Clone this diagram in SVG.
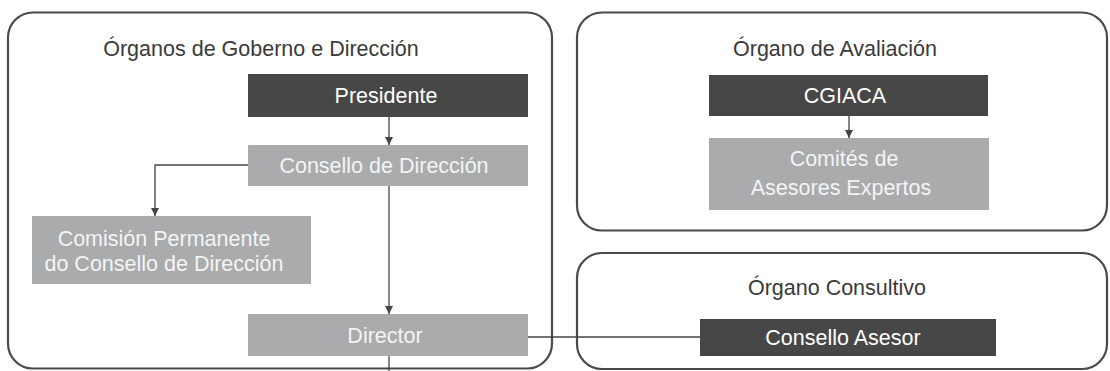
<svg xmlns="http://www.w3.org/2000/svg" width="1110" height="371" viewBox="0 0 1110 371">
  <style>
    text { font-family: "Liberation Sans", Arial, sans-serif; font-size: 21.5px; text-anchor: middle; }
    .frame { fill: #ffffff; stroke: #4a4a4a; stroke-width: 2.2; }
    .title { fill: #3a3a3a; }
    .dark { fill: #474747; }
    .light { fill: #a9abad; }
    .lbl { fill: #ffffff; }
    .lbl2 { fill: #f4f4f4; }
    .conn { fill: none; stroke: #444444; stroke-width: 1.3; }
  </style>
  <defs>
    <marker id="arr" viewBox="0 0 10 10" refX="10" refY="5" markerWidth="8" markerHeight="8" markerUnits="userSpaceOnUse" orient="auto">
      <path d="M0,0 L10,5 L0,10 z" fill="#444444"/>
    </marker>
  </defs>
  <rect width="1110" height="371" fill="#ffffff"/>

  <g id="group-gobierno">
    <rect class="frame" x="8" y="12.5" width="544" height="356" rx="25" ry="25"/>
    <text class="title" x="261" y="56">Órganos de Goberno e Dirección</text>
  </g>
  <g id="group-avaliacion">
    <rect class="frame" x="577" y="12.5" width="530" height="218" rx="25" ry="25"/>
    <text class="title" x="835" y="56">Órgano de Avaliación</text>
  </g>
  <g id="group-consultivo">
    <rect class="frame" x="577" y="253" width="530" height="116" rx="25" ry="25"/>
    <text class="title" x="837" y="295">Órgano Consultivo</text>
  </g>

  <g id="connectors">
    <path class="conn" d="M389,117 V145" marker-end="url(#arr)"/>
    <path class="conn" d="M248,165 H155 V216" marker-end="url(#arr)"/>
    <path class="conn" d="M389,186 V314" marker-end="url(#arr)"/>
    <path class="conn" d="M389,356 V371"/>
    <path class="conn" d="M527,337 H700"/>
    <path class="conn" d="M849,116 V138" marker-end="url(#arr)"/>
  </g>

  <g id="node-presidente">
    <rect class="dark" x="248" y="74" width="280" height="43"/>
    <text class="lbl" x="386" y="103">Presidente</text>
  </g>
  <g id="node-consello-direccion">
    <rect class="light" x="248" y="145" width="280" height="41"/>
    <text class="lbl2" x="384" y="173">Consello de Dirección</text>
  </g>
  <g id="node-comision">
    <rect class="light" x="32" y="216" width="279" height="68"/>
    <text class="lbl2" x="164" y="246">Comisión Permanente</text>
    <text class="lbl2" x="164" y="271">do Consello de Dirección</text>
  </g>
  <g id="node-director">
    <rect class="light" x="248" y="314" width="280" height="42"/>
    <text class="lbl2" x="385" y="343">Director</text>
  </g>
  <g id="node-cgiaca">
    <rect class="dark" x="709" y="75" width="279" height="41"/>
    <text class="lbl" x="845" y="103">CGIACA</text>
  </g>
  <g id="node-comites">
    <rect class="light" x="709" y="138" width="280" height="72"/>
    <text class="lbl2" x="844" y="166">Comités de</text>
    <text class="lbl2" x="841" y="195">Asesores Expertos</text>
  </g>
  <g id="node-consello-asesor">
    <rect class="dark" x="700" y="319" width="296" height="37"/>
    <text class="lbl" x="843" y="345">Consello Asesor</text>
  </g>
</svg>
